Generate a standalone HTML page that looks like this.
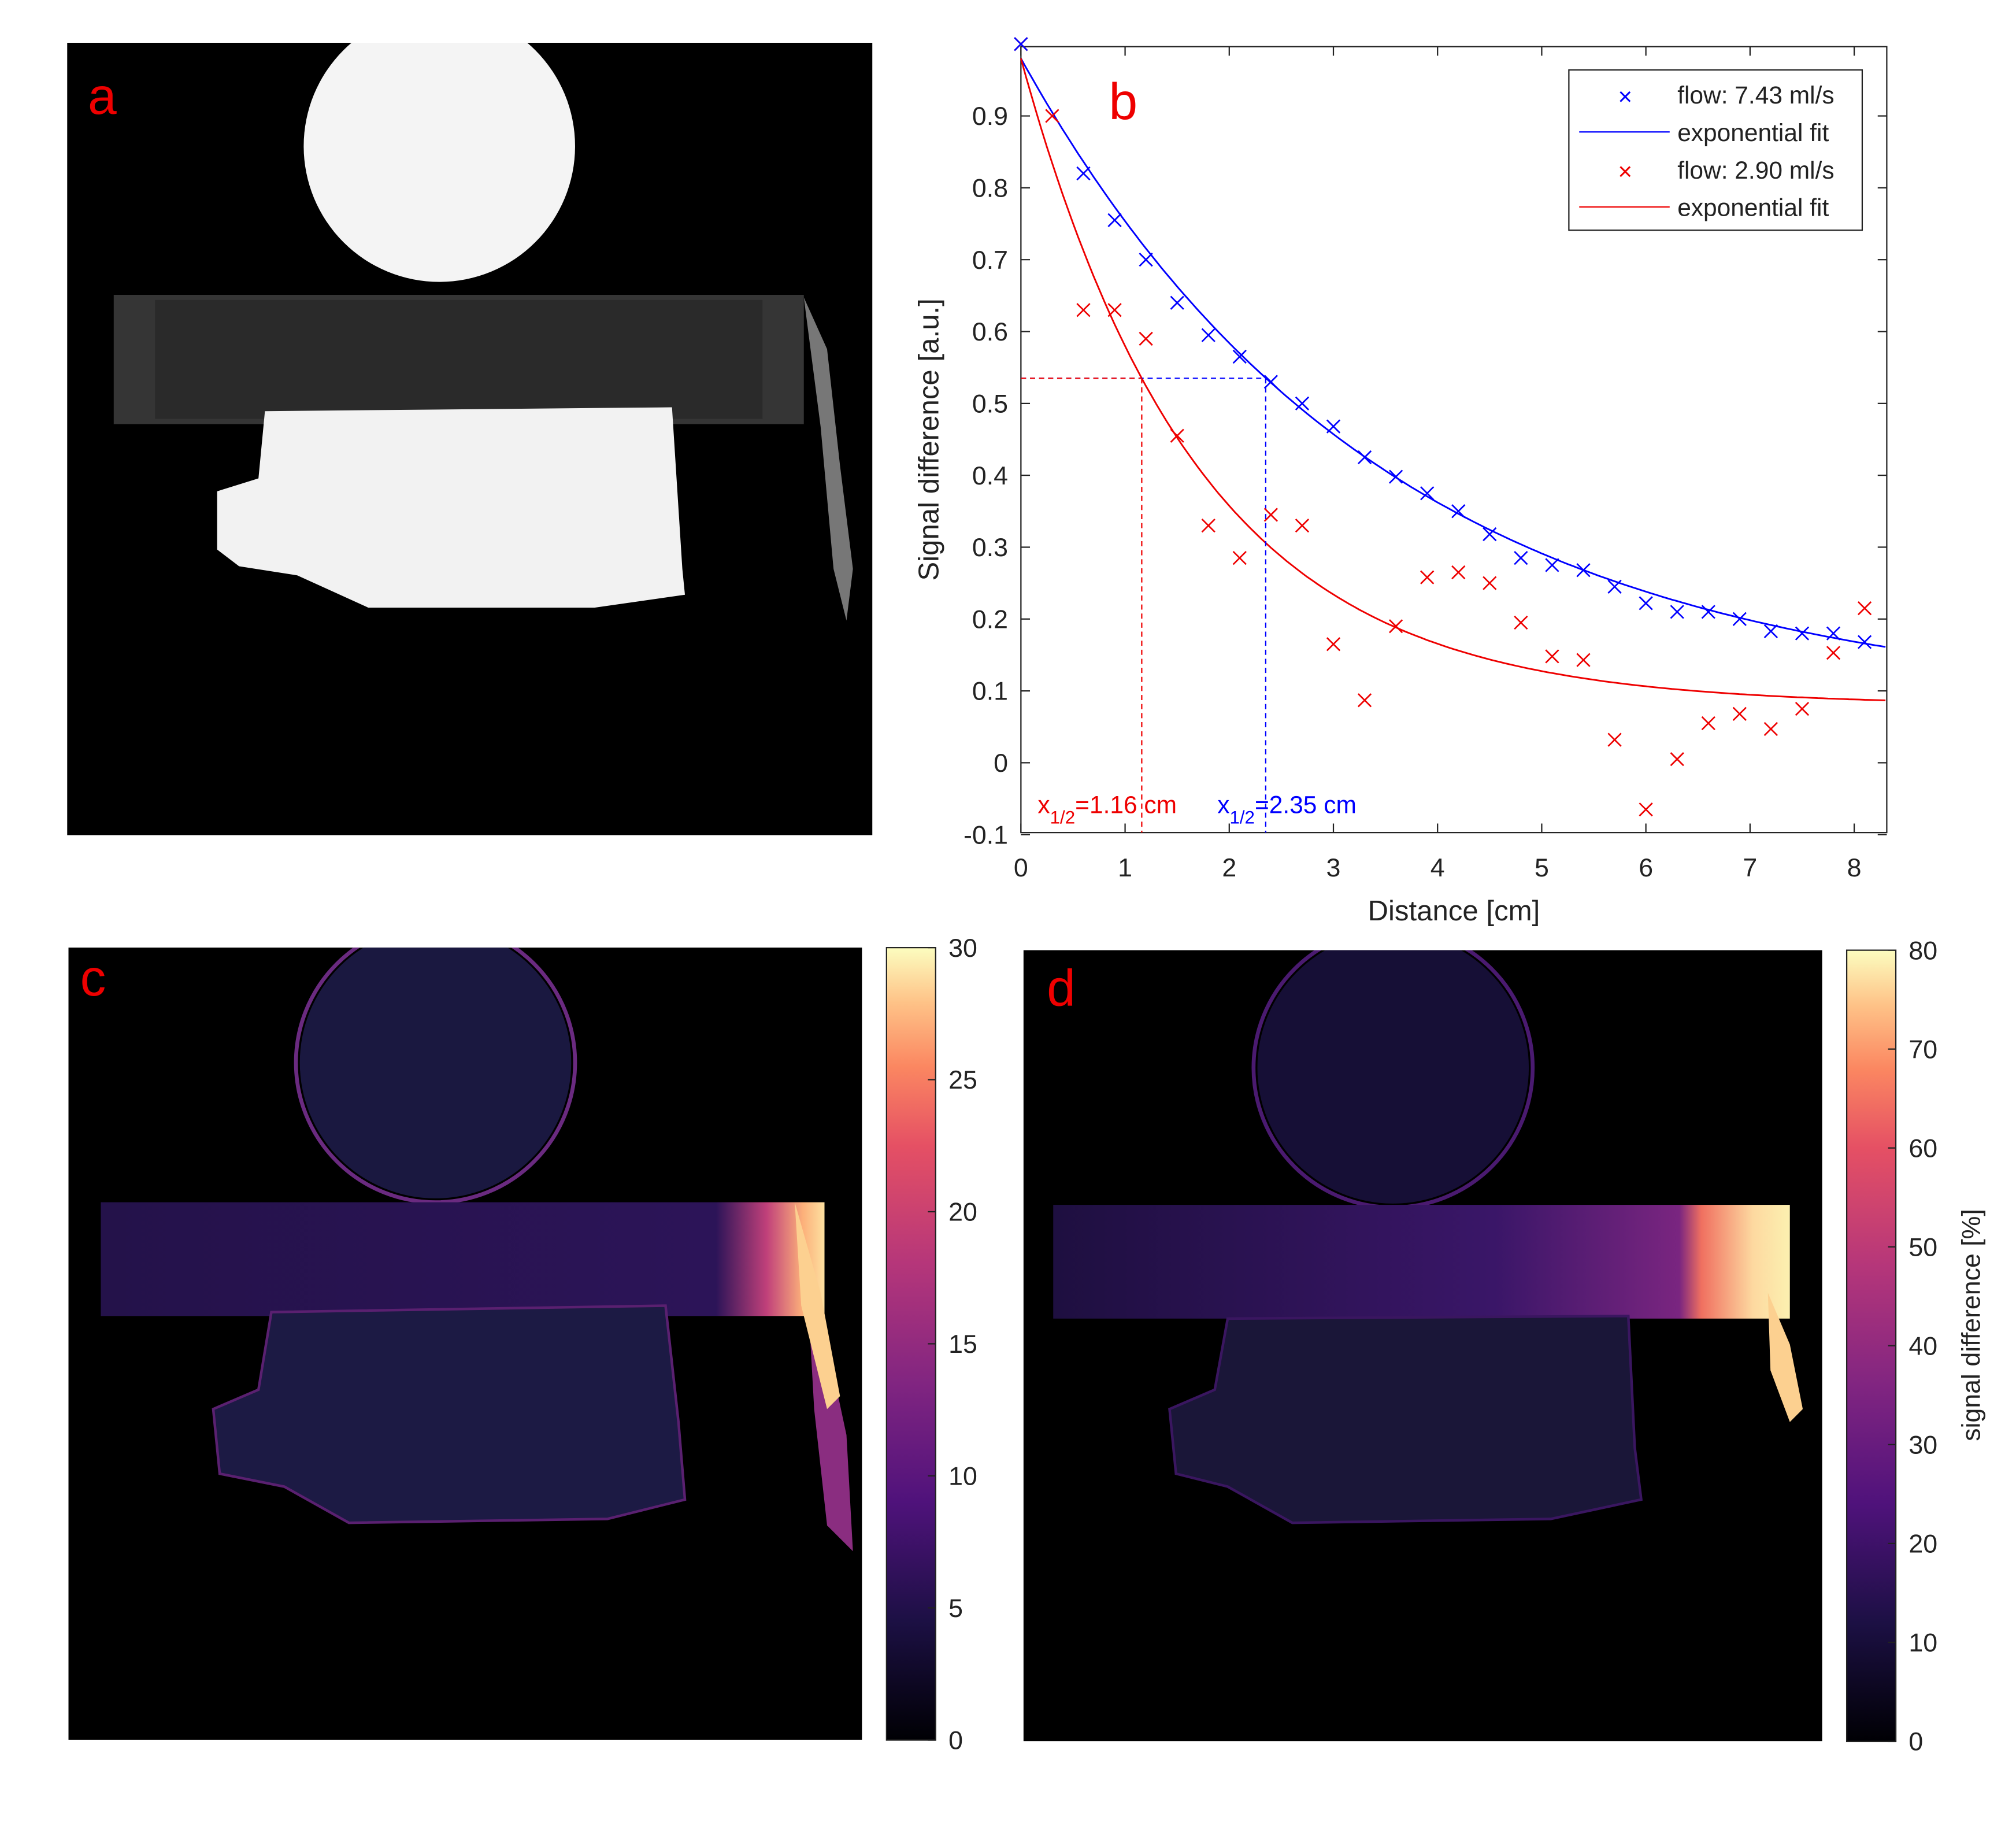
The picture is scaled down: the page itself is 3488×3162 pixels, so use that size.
<!DOCTYPE html>
<html><head><meta charset="utf-8"><style>
html,body{margin:0;padding:0;background:#fff;}
svg{display:block;}
text{font-family:"Liberation Sans",sans-serif;}
</style></head><body>
<svg id="s" width="3488" height="3162" viewBox="0 0 1560 1414" xmlns="http://www.w3.org/2000/svg">
<defs>
<clipPath id="ca"><rect x="52" y="33" width="623" height="613"/></clipPath>
<clipPath id="cc"><rect x="53" y="733" width="614" height="613"/></clipPath>
<clipPath id="cd"><rect x="792" y="735" width="618" height="612"/></clipPath>
<linearGradient id="mag" x1="0" y1="1" x2="0" y2="0">
<stop offset="0" stop-color="#000004"/><stop offset="0.15" stop-color="#1c1044"/><stop offset="0.3" stop-color="#4f127b"/><stop offset="0.45" stop-color="#812581"/><stop offset="0.6" stop-color="#b5367a"/><stop offset="0.75" stop-color="#e55064"/><stop offset="0.85" stop-color="#fb8761"/><stop offset="0.93" stop-color="#fec287"/><stop offset="1" stop-color="#fcfdbf"/>
</linearGradient>
<linearGradient id="tubeC" x1="0" x2="1"><stop offset="0" stop-color="#24124a"/><stop offset="0.85" stop-color="#2c1458"/><stop offset="0.92" stop-color="#c0407a"/><stop offset="0.97" stop-color="#fcb07a"/><stop offset="1" stop-color="#fde0a0"/></linearGradient>
<linearGradient id="tubeD" x1="0" x2="1"><stop offset="0" stop-color="#1e0f40"/><stop offset="0.6" stop-color="#3a1668"/><stop offset="0.85" stop-color="#7a2580"/><stop offset="0.88" stop-color="#f07060"/><stop offset="0.95" stop-color="#fdd9a0"/><stop offset="1" stop-color="#fcf0b0"/></linearGradient>
</defs>
<!-- panel a -->
<rect x="52" y="33" width="623" height="613" fill="#000"/>
<g clip-path="url(#ca)">
<circle cx="340" cy="113" r="105" fill="#f4f4f4"/>
<rect x="88" y="228" width="534" height="100" fill="#353535"/>
<rect x="120" y="232" width="470" height="92" fill="#2a2a2a"/>
<path d="M205,318 L520,315 L528,440 L530,460 L460,470 L285,470 L230,445 L185,438 L168,425 L168,380 L200,370 Z" fill="#f2f2f2"/>
<path d="M622,230 L640,270 L650,360 L660,440 L655,480 L645,440 L635,330 Z" fill="#777"/>
</g>
<text x="68" y="88" font-size="40" fill="#e00">a</text>
<!-- panel b -->
<rect x="790" y="36" width="670" height="608" fill="#fff" stroke="#222" stroke-width="1"/>
<text x="858" y="92" font-size="40" fill="#e00">b</text>
<text x="1125" y="712" font-size="22" text-anchor="middle" fill="#222">Distance [cm]</text>
<text transform="translate(726,340) rotate(-90)" font-size="22" text-anchor="middle" fill="#222">Signal difference [a.u.]</text>
<rect x="1214" y="54" width="227" height="124" fill="#fff" stroke="#222" stroke-width="1"/>
<text x="1252" y="81" font-size="19" fill="#00f">×</text><text x="1298" y="80" font-size="19" fill="#222">flow: 7.43 ml/s</text>
<line x1="1222" y1="102" x2="1292" y2="102" stroke="#00f"/><text x="1298" y="109" font-size="19" fill="#222">exponential fit</text>
<text x="1252" y="139" font-size="19" fill="#e00">×</text><text x="1298" y="138" font-size="19" fill="#222">flow: 2.90 ml/s</text>
<line x1="1222" y1="160" x2="1292" y2="160" stroke="#e00"/><text x="1298" y="167" font-size="19" fill="#222">exponential fit</text>
<text x="803" y="629" font-size="19" fill="#e00">x<tspan font-size="14" dy="8">1/2</tspan><tspan dy="-8">=1.16 cm</tspan></text>
<text x="942" y="629" font-size="19" fill="#00f">x<tspan font-size="14" dy="8">1/2</tspan><tspan dy="-8">=2.35 cm</tspan></text>
<!-- panel c -->
<rect x="53" y="733" width="614" height="613" fill="#000"/>
<g clip-path="url(#cc)">
<circle cx="337" cy="822" r="108" fill="none" stroke="#6a2a80" stroke-width="3"/>
<circle cx="337" cy="822" r="105" fill="#1a1840"/>
<rect x="78" y="930" width="560" height="88" fill="url(#tubeC)"/>
<path d="M210,1015 L515,1010 L525,1100 L530,1160 L470,1175 L270,1178 L220,1150 L170,1140 L165,1090 L200,1075 Z" fill="#1c1a44" stroke="#5a2070" stroke-width="2"/>
<path d="M625,1000 L640,1040 L655,1110 L660,1200 L640,1180 L630,1090 Z" fill="#8a2d80"/>
<path d="M615,930 L635,1000 L650,1080 L640,1090 L620,1010 Z" fill="#fcd090"/>
</g>
<text x="62" y="770" font-size="40" fill="#e00">c</text>
<rect x="686" y="733" width="38" height="613" fill="url(#mag)" stroke="#222" stroke-width="1"/>
<!-- panel d -->
<rect x="792" y="735" width="618" height="612" fill="#000"/>
<g clip-path="url(#cd)">
<circle cx="1078" cy="826" r="108" fill="none" stroke="#4a1a70" stroke-width="3"/>
<circle cx="1078" cy="826" r="105" fill="#160f36"/>
<rect x="815" y="932" width="570" height="88" fill="url(#tubeD)"/>
<path d="M950,1020 L1260,1018 L1265,1120 L1270,1160 L1200,1175 L1000,1178 L950,1150 L910,1140 L905,1090 L940,1075 Z" fill="#1a1638" stroke="#3a1660" stroke-width="2"/>
<path d="M1368,1000 L1385,1040 L1395,1090 L1385,1100 L1370,1060 Z" fill="#fcd090"/>
</g>
<text x="810" y="778" font-size="40" fill="#e00">d</text>
<rect x="1429" y="735" width="38" height="612" fill="url(#mag)" stroke="#222" stroke-width="1"/>
<text transform="translate(1532,1025) rotate(-90)" font-size="20" text-anchor="middle" fill="#222">signal difference [%]</text>
</svg>
<script>
var s=document.getElementById('s'),NS='http://www.w3.org/2000/svg';
function el(t,a,txt){var e=document.createElementNS(NS,t);for(var k in a)e.setAttribute(k,a[k]);if(txt!=null)e.textContent=txt;s.appendChild(e);return e;}
function X(x){return 790+x*80.6;}function Y(y){return 590-y*556;}
for(var i=0;i<=8;i++){el('line',{x1:X(i),y1:644,x2:X(i),y2:637,stroke:'#222'});el('line',{x1:X(i),y1:36,x2:X(i),y2:43,stroke:'#222'});el('text',{x:X(i),y:678,'font-size':20,'text-anchor':'middle',fill:'#222'},i);}
for(var j=-1;j<=9;j++){var v=j/10,y=Y(v);el('line',{x1:790,y1:y,x2:797,y2:y,stroke:'#222'});el('line',{x1:1460,y1:y,x2:1453,y2:y,stroke:'#222'});el('text',{x:780,y:y+7,'font-size':20,'text-anchor':'end',fill:'#222'},v==0?'0':(v<0?'-0.1':v.toFixed(1)));}
function curve(tau,col){var d='';for(var x=0;x<=8.32;x+=0.05){var y=0.08+0.9*Math.exp(-x/tau);d+=(x==0?'M':'L')+X(x).toFixed(1)+','+Y(y).toFixed(1);}el('path',{d:d,fill:'none',stroke:col,'stroke-width':1.3});}
curve(3.45,'#00f');curve(1.70,'#e00');
el('line',{x1:790,y1:Y(0.535),x2:X(2.35),y2:Y(0.535),stroke:'#00f','stroke-dasharray':'4,3'});
el('line',{x1:790,y1:Y(0.535),x2:X(1.16),y2:Y(0.535),stroke:'#e00','stroke-dasharray':'4,3'});
el('line',{x1:X(1.16),y1:Y(0.535),x2:X(1.16),y2:644,stroke:'#e00','stroke-dasharray':'4,3'});
el('line',{x1:X(2.35),y1:Y(0.535),x2:X(2.35),y2:644,stroke:'#00f','stroke-dasharray':'4,3'});
var B=[[0,1],[0.6,.82],[.9,.755],[1.2,.7],[1.5,.64],[1.8,.595],[2.1,.565],[2.4,.53],[2.7,.5],[3,.468],[3.3,.425],[3.6,.398],[3.9,.375],[4.2,.35],[4.5,.318],[4.8,.285],[5.1,.275],[5.4,.268],[5.7,.245],[6,.222],[6.3,.21],[6.6,.21],[6.9,.2],[7.2,.183],[7.5,.18],[7.8,.18],[8.1,.168]];
var R=[[0,1],[.3,.9],[.6,.63],[.9,.63],[1.2,.59],[1.5,.455],[1.8,.33],[2.1,.285],[2.4,.345],[2.7,.33],[3,.165],[3.3,.087],[3.6,.19],[3.9,.258],[4.2,.265],[4.5,.25],[4.8,.195],[5.1,.148],[5.4,.143],[5.7,.032],[6,-.065],[6.3,.005],[6.6,.055],[6.9,.068],[7.2,.047],[7.5,.075],[7.8,.153],[8.1,.215]];
function mk(P,c){P.forEach(function(p){var x=X(p[0]),y=Y(p[1]),r=5;el('path',{d:'M'+(x-r)+','+(y-r)+'L'+(x+r)+','+(y+r)+'M'+(x-r)+','+(y+r)+'L'+(x+r)+','+(y-r),stroke:c,'stroke-width':1.2});});}
mk(R,'#e00');mk(B,'#00f');
for(var k=0;k<=6;k++){var y=1346-k*613/6;el('line',{x1:718,y1:y,x2:724,y2:y,stroke:'#222'});el('text',{x:734,y:y+7,'font-size':20,fill:'#222'},k*5);}
for(var k=0;k<=8;k++){var y=1347-k*612/8;el('line',{x1:1461,y1:y,x2:1467,y2:y,stroke:'#222'});el('text',{x:1477,y:y+7,'font-size':20,fill:'#222'},k*10);}
</script>
</body></html>
